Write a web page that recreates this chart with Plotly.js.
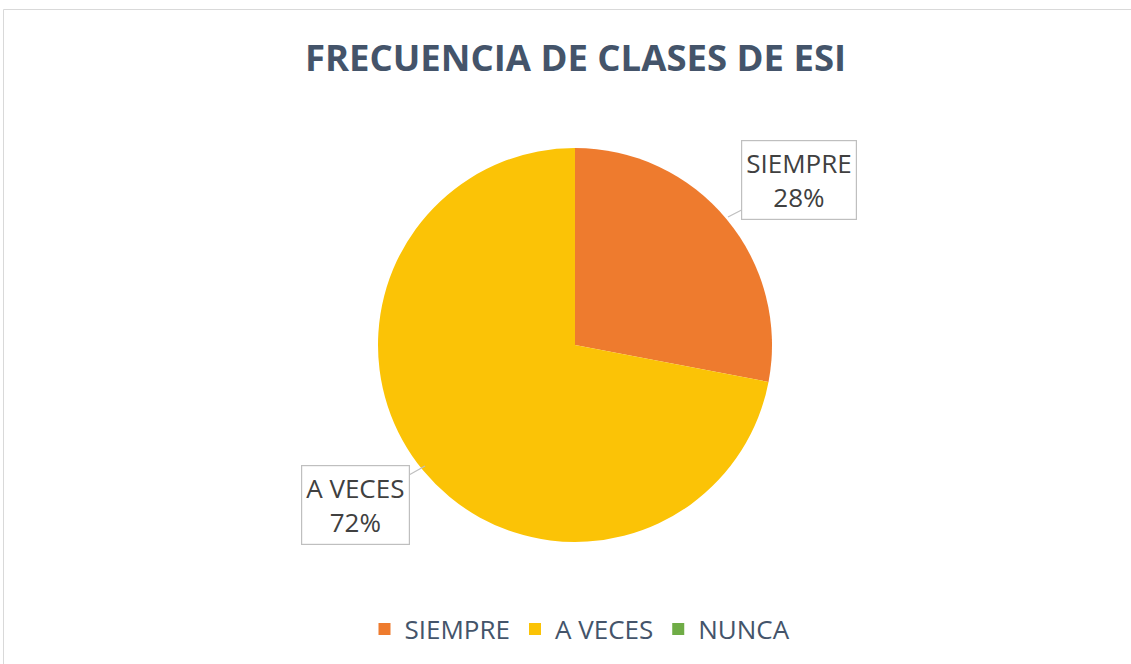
<!DOCTYPE html>
<html><head><meta charset="utf-8">
<script src="https://cdn.plot.ly/plotly-3.0.1.min.js"></script>
<style>html,body{margin:0;padding:0;background:#fff}#chart{width:1131px;height:664px}</style>
</head><body><div id="chart"></div>
<script>
const categories = ["SIEMPRE", "A VECES", "NUNCA"];
const values = [28, 72, 0];
const colors = ["#EE7B2E", "#FBC306", "#6FAC46"];
const chartTitle = "FRECUENCIA DE CLASES DE ESI";

const W = 1131, H = 664;
const px = x => x / W, py = y => 1 - y / H;
const total = values.reduce((a, b) => a + b, 0);
const pct = values.map(v => Math.round(v / total * 100) + "%");

const trace = {
  type: "pie",
  labels: categories,
  values: values,
  sort: false,
  direction: "clockwise",
  rotation: 0,
  marker: {colors: colors, line: {color: "#ffffff", width: 0}},
  textinfo: "none",
  hoverinfo: "label+percent",
  domain: {x: [px(378), px(772)], y: [py(542), py(148)]},
  showlegend: true
};

const labelFont = {family: "Open Sans, Noto Sans, sans-serif", size: 26, color: "#404040"};
const annotations = [
  {x: px(728), y: py(217), ax: 71, ay: -37, text: categories[0] + "<br>" + pct[0],
   showarrow: true, arrowhead: 0, arrowwidth: 1.2, arrowcolor: "#BFBFBF",
   bordercolor: "#BFBFBF", borderwidth: 1.2, borderpad: 4, bgcolor: "#ffffff",
   font: labelFont, xref: "paper", yref: "paper"},
  {x: px(425), y: py(466), ax: -69, ay: 39, text: categories[1] + "<br>" + pct[1],
   showarrow: true, arrowhead: 0, arrowwidth: 1.2, arrowcolor: "#BFBFBF",
   bordercolor: "#BFBFBF", borderwidth: 1.2, borderpad: 4, bgcolor: "#ffffff",
   font: labelFont, xref: "paper", yref: "paper"}
];

const layout = {
  width: W, height: H,
  margin: {l: 0, r: 0, t: 0, b: 0},
  paper_bgcolor: "#ffffff",
  title: {text: "<b>" + chartTitle + "</b>", x: px(575.5), xanchor: "center", y: py(58), yanchor: "middle",
          font: {family: "Open Sans, Noto Sans, sans-serif", size: 36.5, color: "#44546A"}},
  legend: {orientation: "h", x: px(580), xanchor: "center", y: py(629), yanchor: "middle",
           font: {family: "Open Sans, Noto Sans, sans-serif", size: 26, color: "#44546A"},
           itemwidth: 30, traceorder: "normal"},
  annotations: annotations,
  shapes: [{type: "rect", xref: "paper", yref: "paper", x0: px(3.5), x1: px(1140), y0: py(700), y1: py(9.5),
            line: {color: "#D9D9D9", width: 1}, fillcolor: "rgba(0,0,0,0)", layer: "below"}]
};

Plotly.newPlot("chart", [trace], layout, {displayModeBar: false, staticPlot: true});
</script></body></html>
